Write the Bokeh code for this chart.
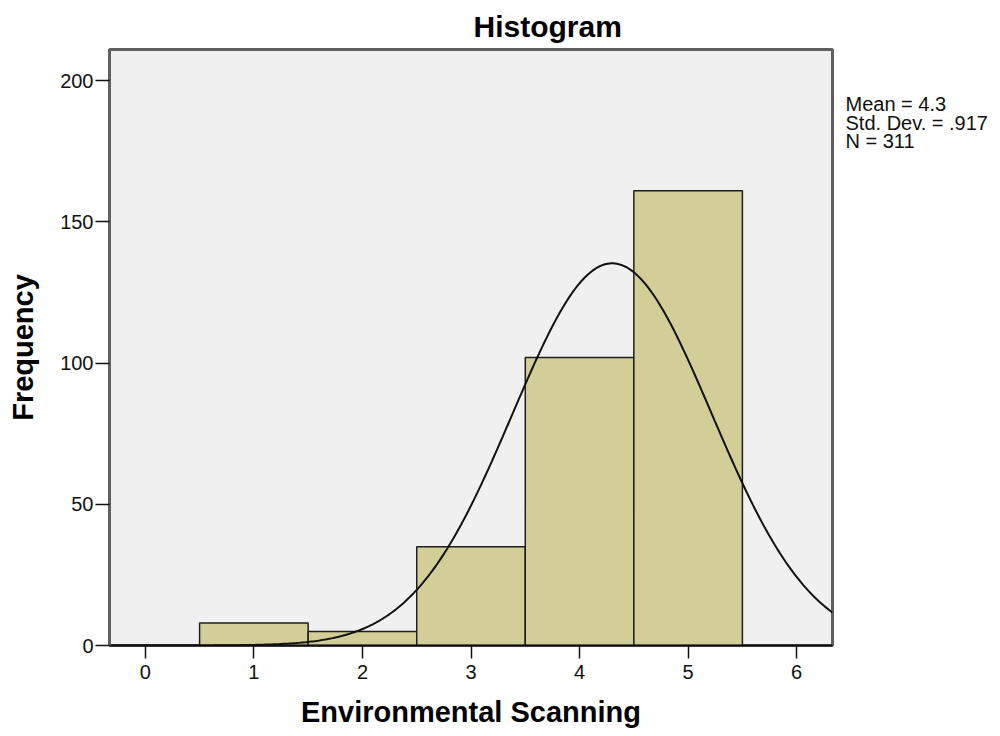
import numpy as np
from bokeh.plotting import figure
from bokeh.models import Range1d, FixedTicker, Label
from bokeh.layouts import row
from bokeh.embed import file_html
from bokeh.resources import INLINE

# ---- data ----
bin_centers = [1, 2, 3, 4, 5]
counts = [8, 5, 35, 102, 161]
bin_width = 1.0
x_ticks = [0, 1, 2, 3, 4, 5, 6]
y_ticks = [0, 50, 100, 150, 200]
stat_mean = 4.3
stat_sd = 0.917
stat_n = 311
stat_lines = ["Mean = 4.3", "Std. Dev. = .917", "N = 311"]

FONT = "Liberation Sans"
X0, X1 = -0.33, 6.33
Y0, Y1 = 0, 211

MAIN_W = 834
SIDE_W = 1000 - MAIN_W
H = 736
TOP, BOTTOM = 49, 91

p = figure(width=MAIN_W, height=H, output_backend="svg", toolbar_location=None,
           x_range=Range1d(X0, X1), y_range=Range1d(Y0, Y1),
           min_border_left=109, min_border_right=2, min_border_top=TOP, min_border_bottom=BOTTOM,
           background_fill_color="#f0f0f0", border_fill_color="white")

p.grid.visible = False
p.outline_line_color = "#606060"
p.outline_line_width = 3

left = [c - bin_width / 2 for c in bin_centers]
right = [c + bin_width / 2 for c in bin_centers]
p.quad(left=left, right=right, bottom=0, top=counts,
       fill_color="#d3ce97", line_color="#1e1e1e", line_width=1.5)

# fitted normal curve from the reported statistics
xs = np.linspace(X0, X1, 400)
ys = stat_n * bin_width / (stat_sd * np.sqrt(2 * np.pi)) * np.exp(-0.5 * ((xs - stat_mean) / stat_sd) ** 2)
p.line(xs, ys, line_color="#111111", line_width=2)

# title
p.title.text = "Histogram"
p.title.text_font = FONT
p.title.text_font_size = "30px"
p.title.text_font_style = "bold"
p.title.text_color = "black"
p.title.align = "left"
p.title.offset = 364
p.title.standoff = 14

# axes
for ax in (p.xaxis[0], p.yaxis[0]):
    ax.major_label_text_font = FONT
    ax.major_label_text_font_size = "20px"
    ax.major_label_text_color = "#111111"
    ax.axis_label_text_font = FONT
    ax.axis_label_text_font_size = "29px"
    ax.axis_label_text_font_style = "bold"
    ax.axis_label_text_color = "black"
    ax.minor_tick_line_color = None
    ax.major_tick_in = 0
    ax.major_tick_line_color = "#111111"
    ax.major_tick_line_width = 1.5

p.xaxis.ticker = FixedTicker(ticks=x_ticks)
p.yaxis.ticker = FixedTicker(ticks=y_ticks)
p.xaxis.axis_label = "Environmental Scanning"
p.yaxis.axis_label = "Frequency"
p.xaxis.major_tick_out = 13
p.yaxis.major_tick_out = 14
p.xaxis.major_label_standoff = 6
p.yaxis.major_label_standoff = 2
p.xaxis.axis_label_standoff = 14
p.yaxis.axis_label_standoff = 18
p.xaxis.axis_line_color = "#111111"
p.xaxis.axis_line_width = 2
p.yaxis.axis_line_color = "#606060"
p.yaxis.axis_line_width = 3

# side panel holding the statistics text; its frame is aligned with the main
# frame, so map the range to canvas pixels (y downwards)
side = figure(width=SIDE_W, height=H, output_backend="svg", toolbar_location=None,
              x_range=Range1d(0, SIDE_W), y_range=Range1d(H - BOTTOM, TOP),
              x_axis_type=None, y_axis_type=None,
              min_border_left=0, min_border_right=0,
              min_border_top=TOP, min_border_bottom=BOTTOM,
              background_fill_color="white", border_fill_color="white")
side.grid.visible = False
side.outline_line_color = None
for i, t in enumerate(stat_lines):
    side.add_layout(Label(x=11, y=103.5 + i * 18.7, text=t, text_font=FONT,
                          text_font_size="20px", text_color="#111111",
                          text_baseline="alphabetic", text_align="left"))

layout = row(p, side, spacing=0)
open("out.html", "w").write(file_html(layout, INLINE))
